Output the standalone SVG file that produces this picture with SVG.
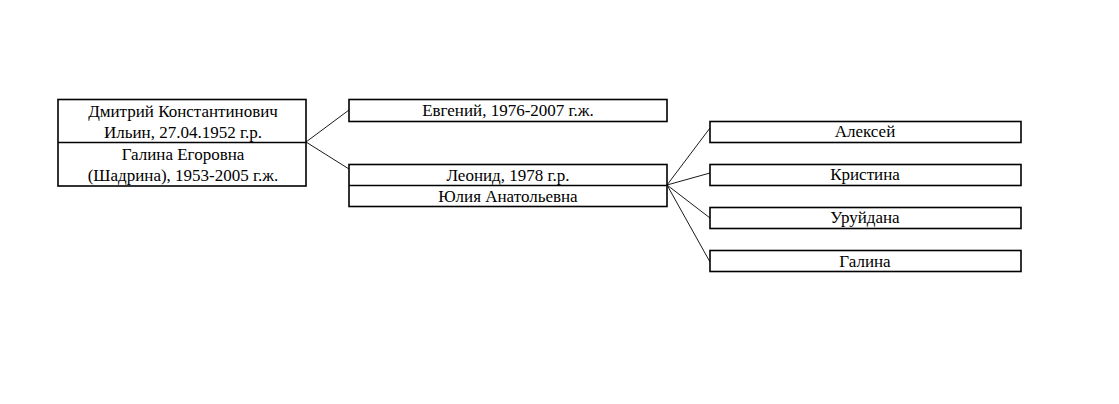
<svg xmlns="http://www.w3.org/2000/svg" width="1119" height="404" viewBox="0 0 1119 404">
<style>
.box{fill:#fff;stroke:#000;stroke-width:1.6}
.div{stroke:#000;stroke-width:1.4}
.t{font-family:"Liberation Serif",serif;font-size:17px;fill:#000;text-anchor:middle}
.c{stroke:#000;stroke-width:0.9;fill:none}
</style>
<rect width="1119" height="404" fill="#fff"/>
<g id="connectors">
<line class="c" x1="306" y1="142" x2="349" y2="110"/>
<line class="c" x1="306" y1="142" x2="349" y2="169"/>
<line class="c" x1="667" y1="185" x2="710" y2="128"/>
<line class="c" x1="667" y1="185" x2="710" y2="173"/>
<line class="c" x1="667" y1="185" x2="710" y2="218"/>
<line class="c" x1="667" y1="185" x2="710" y2="262"/>
</g>
<g id="root">
<rect class="box" x="58" y="99.5" width="248" height="86.5"/>
<line class="div" x1="58" y1="142.5" x2="306" y2="142.5"/>
<text class="t" x="183" y="117">Дмитрий Константинович</text>
<text class="t" x="183" y="138">Ильин, 27.04.1952 г.р.</text>
<text class="t" x="183" y="160">Галина Егоровна</text>
<text class="t" x="183" y="181">(Шадрина), 1953-2005 г.ж.</text>
</g>
<g id="evgeny">
<rect class="box" x="349" y="99.5" width="318" height="22"/>
<text class="t" x="508" y="116">Евгений, 1976-2007 г.ж.</text>
</g>
<g id="leonid">
<rect class="box" x="349" y="164.5" width="318" height="42"/>
<line class="div" x1="349" y1="185.5" x2="667" y2="185.5"/>
<text class="t" x="508" y="181">Леонид, 1978 г.р.</text>
<text class="t" x="508" y="202">Юлия Анатольевна</text>
</g>
<g id="aleksey">
<rect class="box" x="710" y="121.5" width="311" height="21"/>
<text class="t" x="865" y="137">Алексей</text>
</g>
<g id="kristina">
<rect class="box" x="710" y="164.5" width="311" height="21"/>
<text class="t" x="865" y="180">Кристина</text>
</g>
<g id="uruydana">
<rect class="box" x="710" y="207.5" width="311" height="21"/>
<text class="t" x="865" y="223">Уруйдана</text>
</g>
<g id="galina">
<rect class="box" x="710" y="250.5" width="311" height="21"/>
<text class="t" x="865" y="267">Галина</text>
</g>
</svg>
